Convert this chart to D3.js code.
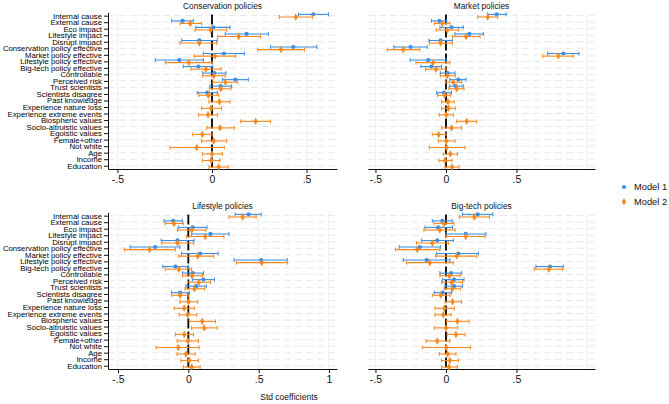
<!DOCTYPE html>
<html><head><meta charset="utf-8">
<script src="https://cdn.jsdelivr.net/npm/d3@7"></script>
<style>
body{margin:0;background:#fff;}
svg{display:block;font-family:"Liberation Sans",Arial,Helvetica,sans-serif;}
</style></head>
<body>
<svg id="chart" width="669" height="404"></svg>
<script>
const categories = ["Internal cause","External cause","Eco impact","Lifestyle impact","Disrupt impact",
"Conservation policy effective","Market policy effective","Lifestyle policy effective","Big-tech policy effective",
"Controllable","Perceived risk","Trust scientists","Scientists disagree","Past knowledge","Experience nature loss",
"Experience extreme events","Biospheric values","Socio-altruistic values","Egoistic values","Female+other",
"Not white","Age","Income","Education"];

const panelTitles = ["Conservation policies","Market policies","Lifestyle policies","Big-tech policies"];
const seriesNames = ["Model 1","Model 2"];
const xTicksNarrow = [-0.5, 0, 0.5];
const xTicksWide = [-0.5, 0, 0.5, 1];

// [estimate, lower CI, upper CI]
const conservationM1 = [[0.536,0.457,0.616],[-0.155,-0.213,-0.099],[0.007,-0.085,0.095],[0.183,0.07,0.298],[-0.067,-0.16,0.028],
[0.43,0.31,0.554],[0.063,-0.046,0.171],[-0.173,-0.3,-0.046],[-0.072,-0.152,0.004],[0.012,-0.049,0.074],[0.123,0.056,0.192],
[0.046,-0.011,0.104],[-0.025,-0.078,0.028]];
const conservationM2 = [[0.443,0.356,0.531],[-0.115,-0.169,-0.055],[-0.007,-0.09,0.078],[0.141,0.03,0.257],[-0.067,-0.17,0.025],
[0.365,0.242,0.489],[0.016,-0.093,0.125],[-0.123,-0.247,0.0],[-0.032,-0.111,0.048],[0.009,-0.049,0.069],[0.071,0.004,0.136],
[0.046,-0.014,0.1],[-0.019,-0.069,0.034],[0.039,-0.016,0.095],[-0.005,-0.055,0.051],[-0.021,-0.071,0.028],[0.231,0.152,0.31],
[0.042,-0.028,0.118],[-0.051,-0.102,0.0],[0.009,-0.055,0.078],[-0.081,-0.222,0.065],[0.0,-0.051,0.055],[-0.004,-0.051,0.042],
[0.035,-0.016,0.086]];

const marketM1 = [[0.36,0.296,0.427],[-0.047,-0.102,0.005],[0.04,-0.043,0.123],[0.166,0.064,0.265],[-0.038,-0.121,0.045],
[-0.251,-0.37,-0.133],[0.832,0.721,0.943],[-0.126,-0.254,0.0],[-0.104,-0.178,-0.031],[0.012,-0.04,0.064],[0.088,0.028,0.142],
[0.069,0.024,0.123],[-0.014,-0.066,0.04]];
const marketM2 = [[0.296,0.225,0.367],[-0.026,-0.081,0.028],[0.009,-0.069,0.088],[0.142,0.047,0.242],[-0.038,-0.116,0.045],
[-0.303,-0.417,-0.185],[0.797,0.686,0.903],[-0.092,-0.213,0.028],[-0.071,-0.145,0.0],[0.009,-0.04,0.066],[0.052,-0.005,0.111],
[0.076,0.021,0.128],[-0.009,-0.059,0.033],[0.014,-0.031,0.059],[0.017,-0.031,0.066],[0.002,-0.047,0.052],[0.147,0.076,0.218],
[0.04,-0.031,0.111],[-0.052,-0.097,0.0],[0.002,-0.055,0.064],[0.005,-0.118,0.135],[0.031,-0.019,0.081],[-0.007,-0.05,0.043],
[0.043,-0.007,0.092]];

const lifestyleM1 = [[0.429,0.333,0.518],[-0.108,-0.173,-0.043],[0.031,-0.072,0.133],[0.157,0.024,0.289],[-0.077,-0.193,0.041],
[-0.236,-0.414,-0.06],[0.084,-0.048,0.212],[0.518,0.325,0.704],[-0.092,-0.181,0.0],[0.031,-0.041,0.108],[0.108,0.029,0.186],
[0.055,-0.017,0.128],[-0.058,-0.12,0.007]];
const lifestyleM2 = [[0.386,0.289,0.482],[-0.101,-0.164,-0.036],[0.024,-0.077,0.125],[0.12,-0.012,0.253],[-0.077,-0.188,0.036],
[-0.275,-0.455,-0.092],[0.067,-0.067,0.181],[0.523,0.342,0.706],[-0.067,-0.164,0.024],[0.027,-0.041,0.1],[0.075,-0.005,0.157],
[0.043,-0.024,0.116],[-0.058,-0.118,0.0],[0.002,-0.06,0.067],[-0.029,-0.101,0.043],[-0.005,-0.065,0.06],[0.099,0.007,0.193],
[0.113,0.024,0.205],[-0.029,-0.092,0.036],[-0.002,-0.08,0.072],[-0.072,-0.229,0.077],[-0.017,-0.08,0.048],[0.007,-0.053,0.072],
[0.024,-0.036,0.084]];

const bigtechM1 = [[0.225,0.118,0.332],[-0.026,-0.097,0.045],[-0.055,-0.149,0.047],[0.14,0.0,0.284],[-0.062,-0.173,0.052],
[-0.185,-0.332,-0.038],[0.088,-0.066,0.23],[-0.137,-0.303,0.028],[0.738,0.638,0.832],[0.036,-0.043,0.111],[0.057,-0.024,0.128],
[0.057,-0.007,0.118],[-0.024,-0.083,0.04]];
const bigtechM2 = [[0.201,0.095,0.308],[-0.014,-0.085,0.057],[-0.043,-0.156,0.064],[0.14,0.0,0.277],[-0.097,-0.209,0.017],
[-0.204,-0.358,-0.043],[0.076,-0.073,0.218],[-0.114,-0.28,0.052],[0.73,0.626,0.827],[0.024,-0.043,0.1],[0.04,-0.031,0.118],
[0.045,-0.014,0.104],[-0.036,-0.097,0.028],[0.047,-0.007,0.111],[-0.012,-0.078,0.059],[-0.019,-0.078,0.036],[0.081,0.005,0.164],
[0.0,-0.083,0.083],[0.071,0.009,0.135],[-0.062,-0.142,0.028],[0.002,-0.168,0.175],[0.012,-0.047,0.071],[0.028,-0.031,0.088],
[0.021,-0.031,0.081]];

const colors = ["#3a8ee6","#f5891f"];

const svg = d3.select("#chart");

const panels = [
  {title: panelTitles[0], m1: conservationM1, m2: conservationM2, x0:108, x1:337, y0:12.4, y1:169, dom:[-0.55,0.661], ticks:xTicksNarrow, labels:true},
  {title: panelTitles[1], m1: marketM1, m2: marketM2, x0:368, x1:595, y0:12.4, y1:169, dom:[-0.553,1.057], ticks:xTicksNarrow, labels:false, extraGrid:[1]},
  {title: panelTitles[2], m1: lifestyleM1, m2: lifestyleM2, x0:108, x1:337, y0:212.4, y1:369, dom:[-0.571,1.057], ticks:xTicksWide, labels:true},
  {title: panelTitles[3], m1: bigtechM1, m2: bigtechM2, x0:368, x1:595, y0:212.4, y1:369, dom:[-0.553,1.057], ticks:xTicksNarrow, labels:false, extraGrid:[1]}
];

const fmt = v => v === 0 ? "0" : (v === 1 ? "1" : (v < 0 ? "-." + String(Math.abs(v)).split(".")[1] : "." + String(v).split(".")[1]));

panels.forEach(p => {
  const g = svg.append("g");
  const x = d3.scaleLinear().domain(p.dom).range([p.x0, p.x1]);
  const y = d3.scaleLinear().domain([-0.5, categories.length - 0.5]).range([p.y0, p.y1]);

  // horizontal grid
  g.append("g").selectAll("line").data(categories).join("line")
    .attr("x1", p.x0).attr("x2", p.x1)
    .attr("y1", (d,i) => y(i)).attr("y2", (d,i) => y(i))
    .attr("stroke", "#e8e8e8").attr("stroke-width", 1).attr("stroke-dasharray", "7,4");
  // vertical grid
  const vg = p.ticks.filter(t => t !== 0).concat(p.extraGrid || []);
  g.append("g").selectAll("line").data(vg).join("line")
    .attr("x1", d => x(d)).attr("x2", d => x(d))
    .attr("y1", p.y0).attr("y2", p.y1)
    .attr("stroke", "#eeeeee").attr("stroke-width", 1);

  // zero line
  g.append("line").attr("x1", x(0)).attr("x2", x(0)).attr("y1", p.y0 + 2).attr("y2", p.y1)
    .attr("stroke", "#000").attr("stroke-width", 1.8).attr("stroke-dasharray", "10,3");

  // x axis
  const xa = g.append("g").attr("transform", `translate(0,${p.y1})`)
    .call(d3.axisBottom(x).tickValues(p.ticks).tickFormat(fmt).tickSize(4).tickSizeOuter(0).tickPadding(3));
  xa.select(".domain").attr("stroke", "#111");
  xa.selectAll(".tick line").attr("stroke", "#111");
  xa.selectAll("text").attr("font-size", 10.5).attr("fill", "#111").attr("font-family", "Liberation Sans, Arial, sans-serif");

  // y axis
  if (p.labels) {
    const ya = g.append("g").attr("transform", `translate(${p.x0},0)`)
      .call(d3.axisLeft(y).tickValues(d3.range(categories.length)).tickFormat(i => categories[i]).tickSize(4).tickSizeOuter(0).tickPadding(2));
    ya.select(".domain").attr("stroke", "#111");
    ya.selectAll(".tick line").attr("stroke", "#111");
    ya.selectAll("text").attr("font-size", 7.8).attr("fill", "#000").attr("font-family", "Liberation Sans, Arial, sans-serif");
  }

  // title
  g.append("text").attr("x", (p.x0 + p.x1) / 2).attr("y", p.y0 - 3.5).attr("text-anchor", "middle")
    .attr("font-size", 8.3).attr("fill", "#111").text(p.title);

  // series
  [p.m1, p.m2].forEach((series, s) => {
    const off = s === 0 ? -1.3 : 1.3;
    const c = colors[s];
    const sg = g.append("g");
    const rows = series.map((d, i) => ({i, est: d[0], lo: d[1], hi: d[2]}));
    sg.selectAll("line.ci").data(rows).join("line").attr("class","ci")
      .attr("x1", d => x(d.lo)).attr("x2", d => x(d.hi))
      .attr("y1", d => y(d.i) + off).attr("y2", d => y(d.i) + off)
      .attr("stroke", c).attr("stroke-width", 1.1);
    sg.selectAll("line.caplo").data(rows).join("line").attr("class","caplo")
      .attr("x1", d => x(d.lo)).attr("x2", d => x(d.lo))
      .attr("y1", d => y(d.i) + off - 2).attr("y2", d => y(d.i) + off + 2)
      .attr("stroke", c).attr("stroke-width", 1);
    sg.selectAll("line.caphi").data(rows).join("line").attr("class","caphi")
      .attr("x1", d => x(d.hi)).attr("x2", d => x(d.hi))
      .attr("y1", d => y(d.i) + off - 2).attr("y2", d => y(d.i) + off + 2)
      .attr("stroke", c).attr("stroke-width", 1);
    const sym = d3.symbol().type(s === 0 ? d3.symbolCircle : d3.symbolDiamond).size(s === 0 ? 14 : 16);
    sg.selectAll("path").data(rows).join("path")
      .attr("transform", d => `translate(${x(d.est)},${y(d.i) + off})`)
      .attr("d", sym).attr("fill", c);
  });
});

// x axis title
svg.append("text").attr("x", 289).attr("y", 400).attr("text-anchor", "middle")
  .attr("font-size", 8.5).attr("fill", "#111").text("Std coefficients");

// legend
const lg = svg.append("g");
seriesNames.forEach((n, s) => {
  const yy = 187 + s * 14.7;
  lg.append("path").attr("transform", `translate(624,${yy})`)
    .attr("d", d3.symbol().type(s === 0 ? d3.symbolCircle : d3.symbolDiamond).size(s === 0 ? 14 : 16)())
    .attr("fill", colors[s]);
  lg.append("text").attr("x", 634).attr("y", yy + 3.3).attr("font-size", 9.3).attr("fill", "#111").text(n);
});
</script>
</body></html>
